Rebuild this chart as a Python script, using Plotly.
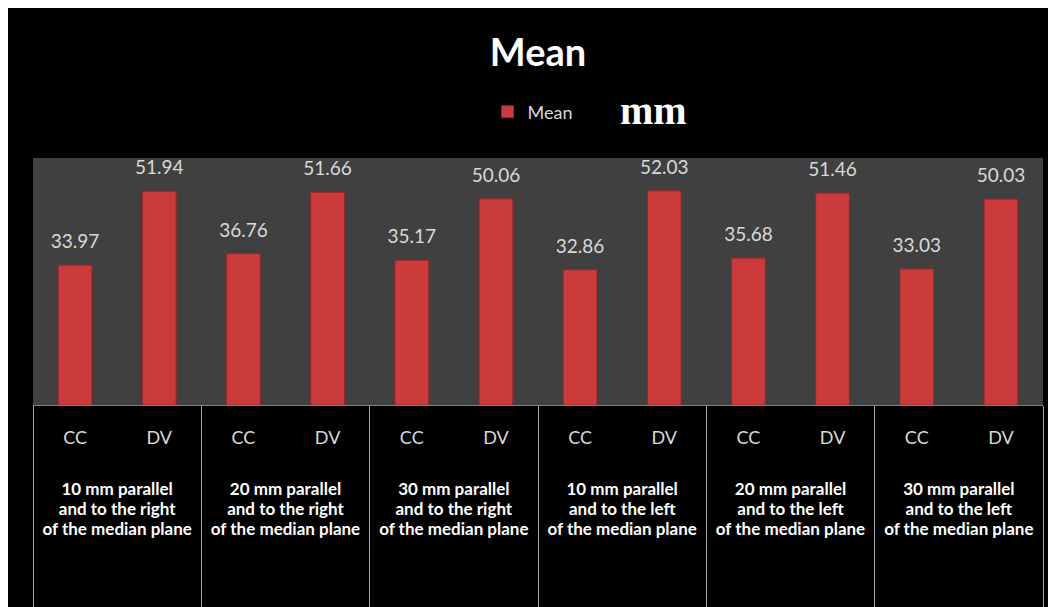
import plotly.graph_objects as go

groups = [
    ["10 mm parallel", "and to the right", "of the median plane"],
    ["20 mm parallel", "and to the right", "of the median plane"],
    ["30 mm parallel", "and to the right", "of the median plane"],
    ["10 mm parallel", "and to the left", "of the median plane"],
    ["20 mm parallel", "and to the left", "of the median plane"],
    ["30 mm parallel", "and to the left", "of the median plane"],
]
inner = ["CC", "DV"]
cc_values = [33.97, 36.76, 35.17, 32.86, 35.68, 33.03]
dv_values = [51.94, 51.66, 50.06, 52.03, 51.46, 50.03]

FILL = "<br>&nbsp;" * 4
x_outer, x_inner, y_vals = [], [], []
for g, c, d in zip(groups, cc_values, dv_values):
    label = "<br>".join(f"<b><span style='font-size:17px'>{line}</span></b>" for line in g)
    x_outer += [label + FILL] * 2
    x_inner += [
        "&nbsp;<br><span style='font-size:18px;color:#d9d9d9'>" + i
        + "</span><br><span style='font-size:58px'>&nbsp;</span>"
        for i in inner
    ]
    y_vals += [c, d]

FONT = "Lato"

fig = go.Figure()
fig.add_trace(go.Bar(
    x=[x_outer, x_inner], y=y_vals, name="Mean",
    marker=dict(color="#cc3b3b", line=dict(color="#9a2626", width=1)),
    hoverinfo="skip",
))
fig.add_trace(go.Scatter(
    x=[x_outer, x_inner], y=y_vals, mode="markers+text",
    text=[f"{v:.2f}" for v in y_vals], textposition="top center",
    textfont=dict(family=FONT, size=19, color="#d9d9d9"),
    marker=dict(size=18, opacity=0), showlegend=False, hoverinfo="skip",
    cliponaxis=False,
))

fig.update_layout(
    width=1056, height=607,
    margin=dict(l=25, r=21, t=150, b=210),
    paper_bgcolor="#000000", plot_bgcolor="#404040",
    bargap=0.6,
    title=dict(text="<b>Mean</b>", font=dict(family=FONT, size=38, color="#ffffff"),
               x=0.5, xref="paper", xanchor="center", y=0.926, yanchor="middle"),
    showlegend=True,
    legend=dict(orientation="h", x=0.450, xanchor="left", y=1.186, yanchor="middle",
                font=dict(family=FONT, size=18, color="#d9d9d9"),
                bgcolor="rgba(0,0,0,0)"),
    annotations=[dict(text="<b>mm</b>", xref="paper", yref="paper", x=0.614, y=1.194,
                      xanchor="center", yanchor="middle", showarrow=False,
                      font=dict(family="Liberation Serif", size=40, color="#ffffff"))],
)
fig.update_xaxes(
    type="multicategory", range=[-0.5, 11.5], automargin=False,
    tickfont=dict(family=FONT, size=15.2, color="#ffffff"),
    showdividers=True, dividercolor="#a6a6a6", dividerwidth=1,
    showline=True, linecolor="#808080", linewidth=1,
    showgrid=False,
)
fig.update_yaxes(range=[0, 60], visible=False, showgrid=False, automargin=False)

fig.write_html("out.html")
